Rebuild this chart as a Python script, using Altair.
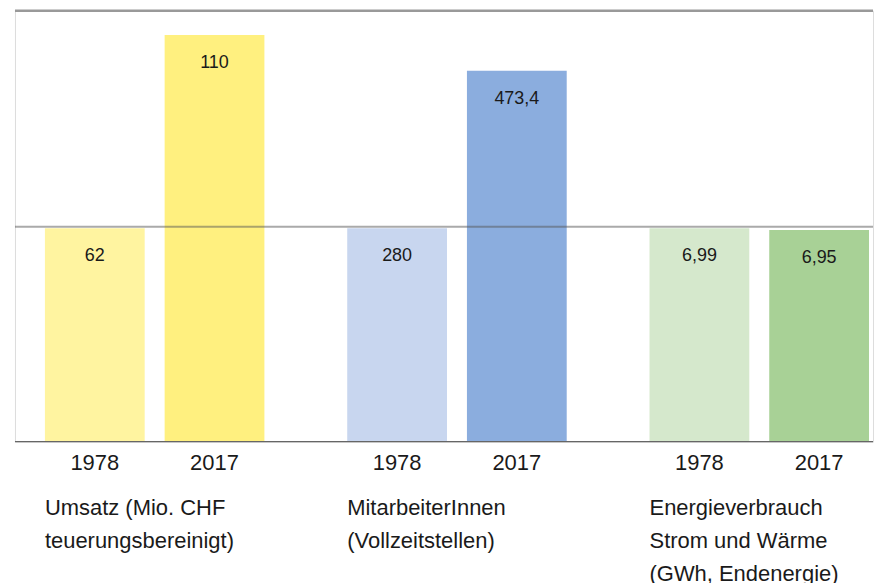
import altair as alt
import pandas as pd

# ---- data ----
groups = ["Umsatz", "MitarbeiterInnen", "Energie"]
group_labels = [
    "Umsatz (Mio. CHF\nteuerungsbereinigt)",
    "MitarbeiterInnen\n(Vollzeitstellen)",
    "Energieverbrauch\nStrom und Wärme\n(GWh, Endenergie)",
]
years = ["1978", "2017"]
value_labels = [["62", "110"], ["280", "473,4"], ["6,99", "6,95"]]
# bar heights as an index (1978 = 100), as drawn
heights = [[100, 190.6], [100, 173.8], [100, 99.2]]
ref_levels = [0, 100.7, 202]  # baseline, 1978 reference line, top line

palette = ["#FFF4A0", "#FFF07F", "#C8D6EF", "#8BADDE", "#D5E8CC", "#A8D196"]

rows = []
for gi, g in enumerate(groups):
    for yi, y in enumerate(years):
        rows.append({"group": g, "year": y, "key": f"{g} {y}",
                     "index": heights[gi][yi], "label": value_labels[gi][yi]})
df = pd.DataFrame(rows)
gdf = pd.DataFrame({"group": groups, "glabel": group_labels})

W, H = 860, 432
step = 303.0
extra = W - (3 * step - 83)
xscale = alt.Scale(domain=groups, paddingInner=83 / step,
                   paddingOuter=extra / 2 / step, align=30 / extra)
yscale = alt.Scale(domain=[0, ref_levels[2]], nice=False, zero=True)
offscale = alt.Scale(domain=years, paddingInner=1 / 6, paddingOuter=0)

X = alt.X("group:N", scale=xscale, axis=None)
XO = alt.XOffset("year:N", scale=offscale)

base = alt.Chart(df)

bars = base.mark_bar().encode(
    x=X, xOffset=XO,
    y=alt.Y("index:Q", scale=yscale, axis=None),
    color=alt.Color("key:N", scale=alt.Scale(domain=list(df["key"]), range=palette),
                    legend=None),
)

vals = base.mark_text(baseline="middle", dy=28, fontSize=18, color="#1a1a1a").encode(
    x=X, xOffset=XO, y=alt.Y("index:Q", scale=yscale), text="label:N"
)

yearlab = base.mark_text(baseline="alphabetic", dy=28, fontSize=22, color="#1a1a1a").encode(
    x=X, xOffset=XO, y=alt.datum(0), text="year:N"
)

grouplab = alt.Chart(gdf).mark_text(
    baseline="top", align="left", dy=57, fontSize=22, lineHeight=33,
    lineBreak="\n", color="#1a1a1a"
).encode(
    x=alt.X("group:N", scale=xscale, axis=None, bandPosition=0),
    y=alt.datum(0), text="glabel:N"
)

def rule(level, color, width, opacity=1.0):
    return alt.Chart(pd.DataFrame({"v": [level]})).mark_rule(
        color=color, strokeWidth=width, opacity=opacity
    ).encode(y=alt.Y("v:Q", scale=yscale))

top_rule = rule(ref_levels[2], "#999999", 2.5)
mid_rule = rule(ref_levels[1], "#555555", 2, 0.5)
base_rule = rule(ref_levels[0], "#666666", 1.2)

chart = alt.layer(
    bars, top_rule, base_rule, mid_rule, vals, yearlab, grouplab
).properties(
    width=W, height=H,
    padding={"left": 5, "top": 0, "right": 0, "bottom": 0},
).configure_view(stroke=None).configure(font="Liberation Sans")

chart.save("out.html", embed_options={"renderer": "svg", "actions": False})
